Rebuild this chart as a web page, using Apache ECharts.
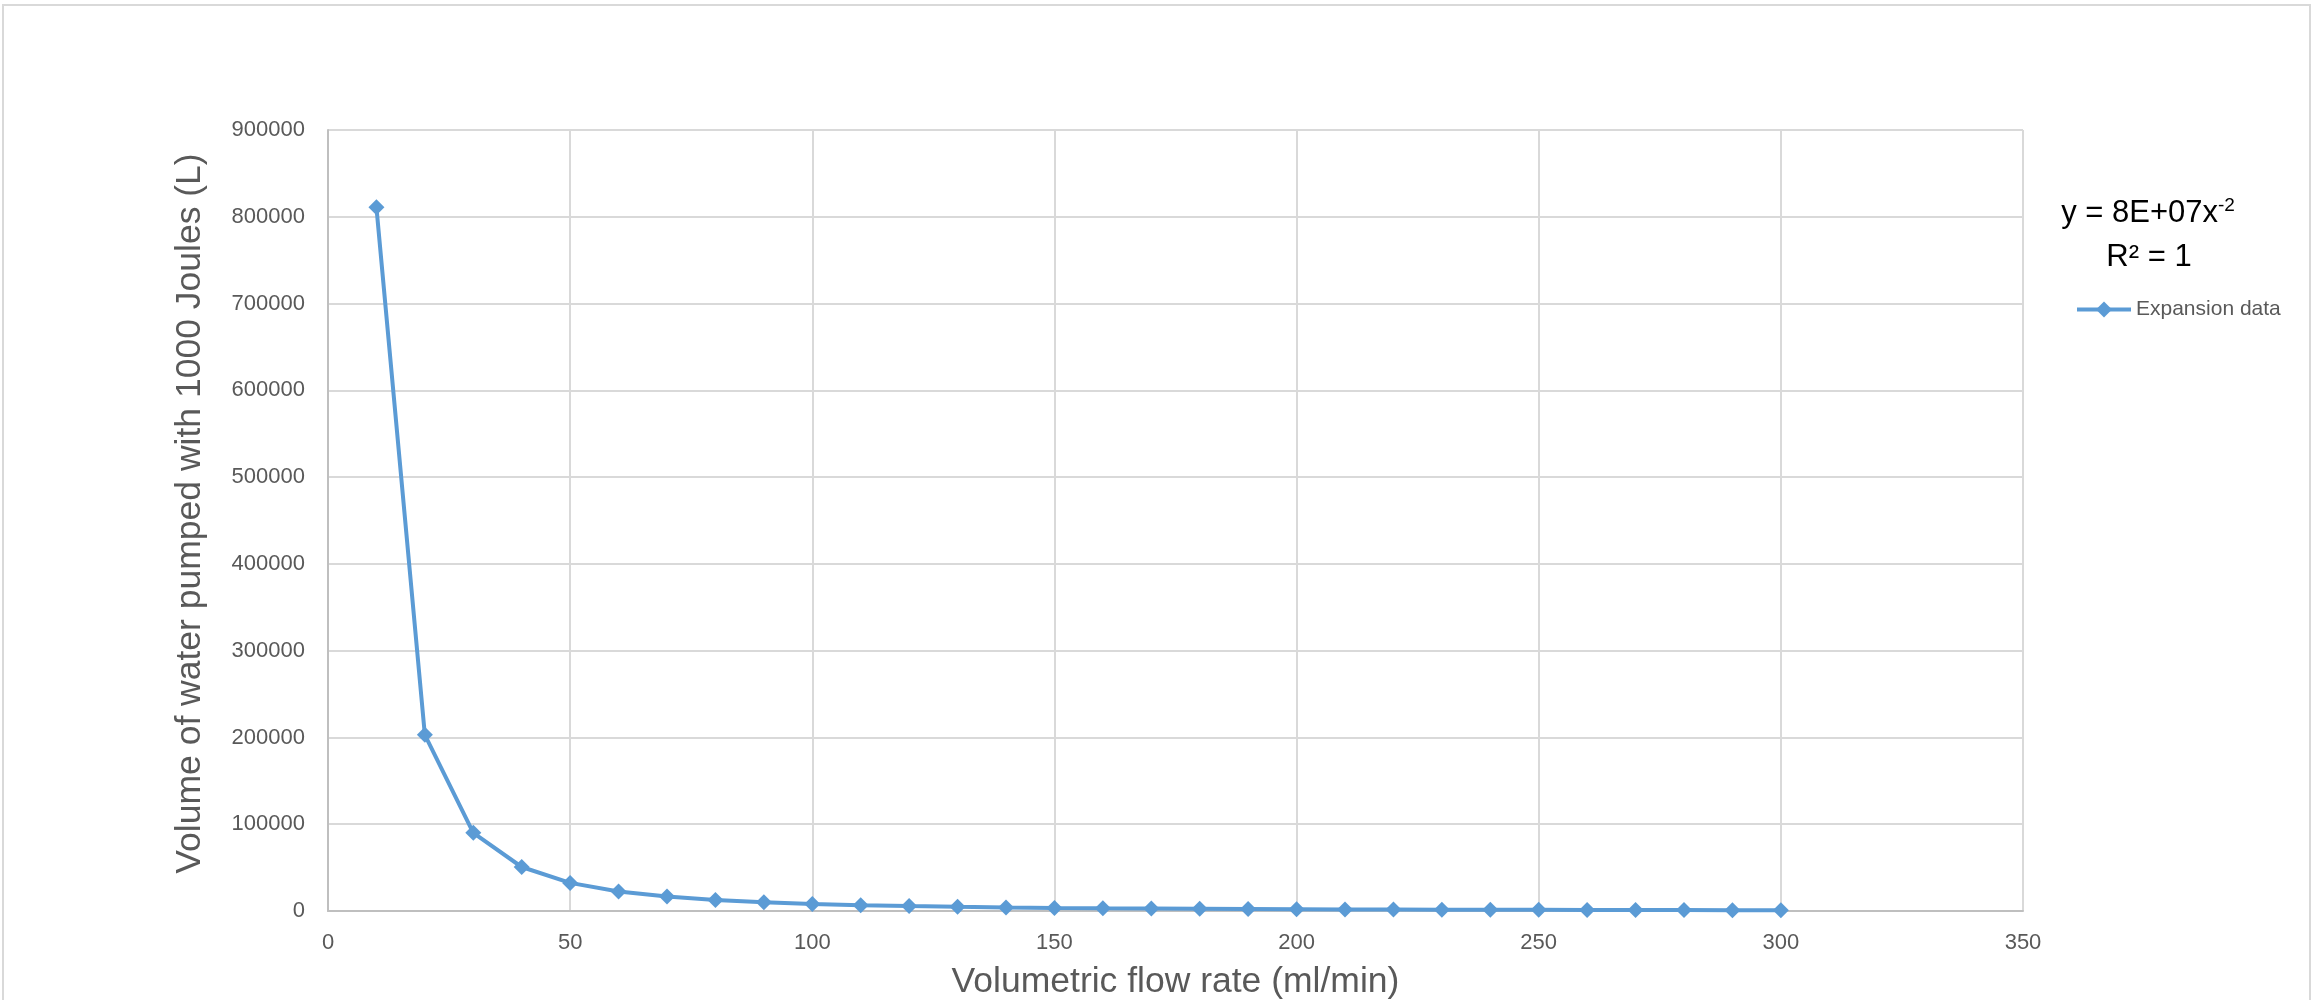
<!DOCTYPE html>
<html>
<head>
<meta charset="utf-8">
<script src="https://cdn.jsdelivr.net/npm/echarts@6/dist/echarts.min.js"></script>
<style>
html,body{margin:0;padding:0;background:#fff;}
#chart{width:2320px;height:1000px;}
</style>
</head>
<body>
<div id="chart"></div>
<script>
// Data
const flowRates = [10,20,30,40,50,60,70,80,90,100,110,120,130,140,150,160,170,180,190,200,210,220,230,240,250,260,270,280,290,300];
const volumes = [811000,203000,90100,50700,32400,22500,16600,12700,10000,8110,6700,5630,4800,4140,3600,3170,2810,2500,2250,2030,1840,1680,1530,1410,1300,1200,1110,1030,964,901];
const xTicks = {min:0, max:350, interval:50};
const yTicks = {min:0, max:900000, interval:100000};
const seriesName = 'Expansion data';
const xTitle = 'Volumetric flow rate (ml/min)';
const yTitle = 'Volume of water pumped with 1000 Joules (L)';
const eqMain = 'y = 8E+07x';
const eqSup = '-2';
const r2Text = 'R² = 1';

const FONT = 'Liberation Sans';
const chart = echarts.init(document.getElementById('chart'));
const points = flowRates.map((x,i)=>[x, volumes[i]]);

chart.setOption({
  animation:false,
  backgroundColor:'#fff',
  textStyle:{fontFamily:FONT},
  grid:{left:328, right:297, top:130, bottom:89, containLabel:false, outerBoundsMode:'none'},
  xAxis:{
    type:'value', min:xTicks.min, max:xTicks.max, interval:xTicks.interval,
    name:xTitle, nameLocation:'middle', nameGap:53,
    nameTextStyle:{fontFamily:FONT, fontSize:35.5, color:'#595959'},
    axisLine:{show:true, lineStyle:{color:'#BFBFBF', width:2}},
    axisTick:{show:false},
    axisLabel:{fontFamily:FONT, fontSize:22, color:'#595959', margin:21, formatter:v=>String(v)},
    splitLine:{show:true, lineStyle:{color:'#D9D9D9', width:2}}
  },
  yAxis:{
    type:'value', min:yTicks.min, max:yTicks.max, interval:yTicks.interval,
    name:yTitle, nameLocation:'middle', nameGap:120,
    nameTextStyle:{fontFamily:FONT, fontSize:35.5, color:'#595959', padding:[0,0,0,14]},
    axisLine:{show:true, lineStyle:{color:'#BFBFBF', width:2}},
    axisTick:{show:false},
    axisLabel:{fontFamily:FONT, fontSize:22, color:'#595959', margin:23, formatter:v=>String(v)},
    splitLine:{show:true, lineStyle:{color:'#D9D9D9', width:2}}
  },
  legend:{
    show:true, left:2070, top:294, orient:'vertical',
    itemWidth:54, itemHeight:20, itemGap:5,
    lineStyle:{width:4},
    textStyle:{fontFamily:FONT, fontSize:21, color:'#595959'},
    data:[seriesName]
  },
  series:[{
    name:seriesName, type:'line', data:points,
    symbol:'diamond', symbolSize:16,
    lineStyle:{color:'#5B9BD5', width:4},
    itemStyle:{color:'#5B9BD5'},
    showAllSymbol:true
  }],
  graphic:[
    {type:'rect', shape:{x:3, y:5, width:2307, height:1010}, style:{fill:'none', stroke:'#D9D9D9', lineWidth:2}, silent:true},
    {type:'text', x:2148, y:213, style:{
      text:'{a|'+eqMain+'}{s|'+eqSup+'}', align:'center', verticalAlign:'middle',
      rich:{a:{fontFamily:FONT, fontSize:31, fill:'#000'}, s:{fontFamily:FONT, fontSize:19, fill:'#000', verticalAlign:'top', padding:[0,0,14,0]}}
    }},
    {type:'text', x:2149, y:257, style:{text:r2Text, align:'center', verticalAlign:'middle', fontFamily:FONT, fontSize:31, fill:'#000'}}
  ]
});
</script>
</body>
</html>
